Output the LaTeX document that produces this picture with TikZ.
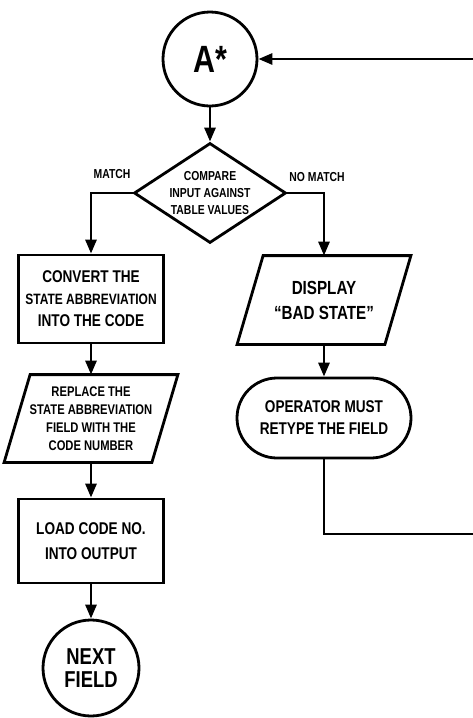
\documentclass[tikz,border=0pt]{standalone}
\usepackage{fontspec}
\setmainfont{Liberation Sans}
\newfontfamily\handfont[FakeStretch=0.8]{Liberation Sans}
\usetikzlibrary{arrows.meta,shapes.geometric,shapes.misc}
\newcommand\fsz[2]{\handfont\bfseries\fontsize{#1}{#2}\selectfont}
\begin{document}
\begin{tikzpicture}[x=1pt,y=-1pt,
  line width=2.8pt,
  flow/.style={draw, line width=2.8pt, align=center, inner sep=0pt},
  ionode/.style={align=center, inner sep=0pt, minimum width=145pt},
  arr/.style={-{Triangle[length=14pt,width=11pt]}, line width=2.8pt},
  lbl/.style={font=\fsz{13}{15}, inner sep=0pt}
]
\useasboundingbox (0,0) rectangle (473,718);

% connector circles
\node[flow, circle, minimum size=94pt, font=\fsz{38}{40}] (astart) at (210,59) {A*};
\node[flow, circle, minimum size=96pt, font=\fsz{23}{23}] (next) at (91,668) {NEXT\\FIELD};

% decision
\node[flow, diamond, aspect=1.52, minimum width=152pt, minimum height=100pt,
      font=\fsz{13}{17}] (cmp) at (210,193) {COMPARE\\INPUT AGAINST\\TABLE VALUES};
\node[lbl] (match) at (112,174) {MATCH};
\node[lbl] (nomatch) at (317,177) {NO MATCH};

% process boxes
\node[flow, rectangle, minimum width=145pt, minimum height=88pt, font=\fsz{17}{22}]
  (conv) at (91,299) {CONVERT THE\\{\fontsize{15}{22}\selectfont STATE ABBREVIATION}\\INTO THE CODE};
\node[flow, rectangle, minimum width=145pt, minimum height=84pt, font=\fsz{17}{25}]
  (load) at (91,541) {LOAD CODE NO.\\INTO OUTPUT};

% input/output parallelograms
\node[ionode, minimum height=86pt, font=\fsz{19}{25}]
  (disp) at (324,300) {DISPLAY\\“BAD STATE”};
\draw ([xshift=13pt]disp.north west) -- ([xshift=13pt]disp.north east)
  -- ([xshift=-13pt]disp.south east) -- ([xshift=-13pt]disp.south west) -- cycle;
\node[ionode, minimum height=85pt, font=\fsz{14}{18}]
  (repl) at (91,418.5) {REPLACE THE\\STATE ABBREVIATION\\FIELD WITH THE\\CODE NUMBER};
\draw ([xshift=13pt]repl.north west) -- ([xshift=13pt]repl.north east)
  -- ([xshift=-13pt]repl.south east) -- ([xshift=-13pt]repl.south west) -- cycle;

% terminal
\node[flow, rounded rectangle, minimum width=174pt, minimum height=80pt, font=\fsz{17}{22}]
  (retype) at (324,418) {OPERATOR MUST\\RETYPE THE FIELD};

% connectors
\coordinate (fbdown) at (476,534);
\coordinate (fbup) at (476,59);
\draw[arr] (astart) -- (cmp);
\draw[arr] (cmp.west) -| (conv.north);
\draw[arr] (cmp.east) -| (disp.north);
\draw[arr] (conv) -- (repl);
\draw[arr] (repl) -- (load);
\draw[arr] (load) -- (next);
\draw[arr] (disp) -- (retype);
\draw[arr] (retype.south) |- (fbdown) -- (fbup) -- (astart.east);
\end{tikzpicture}
\end{document}
